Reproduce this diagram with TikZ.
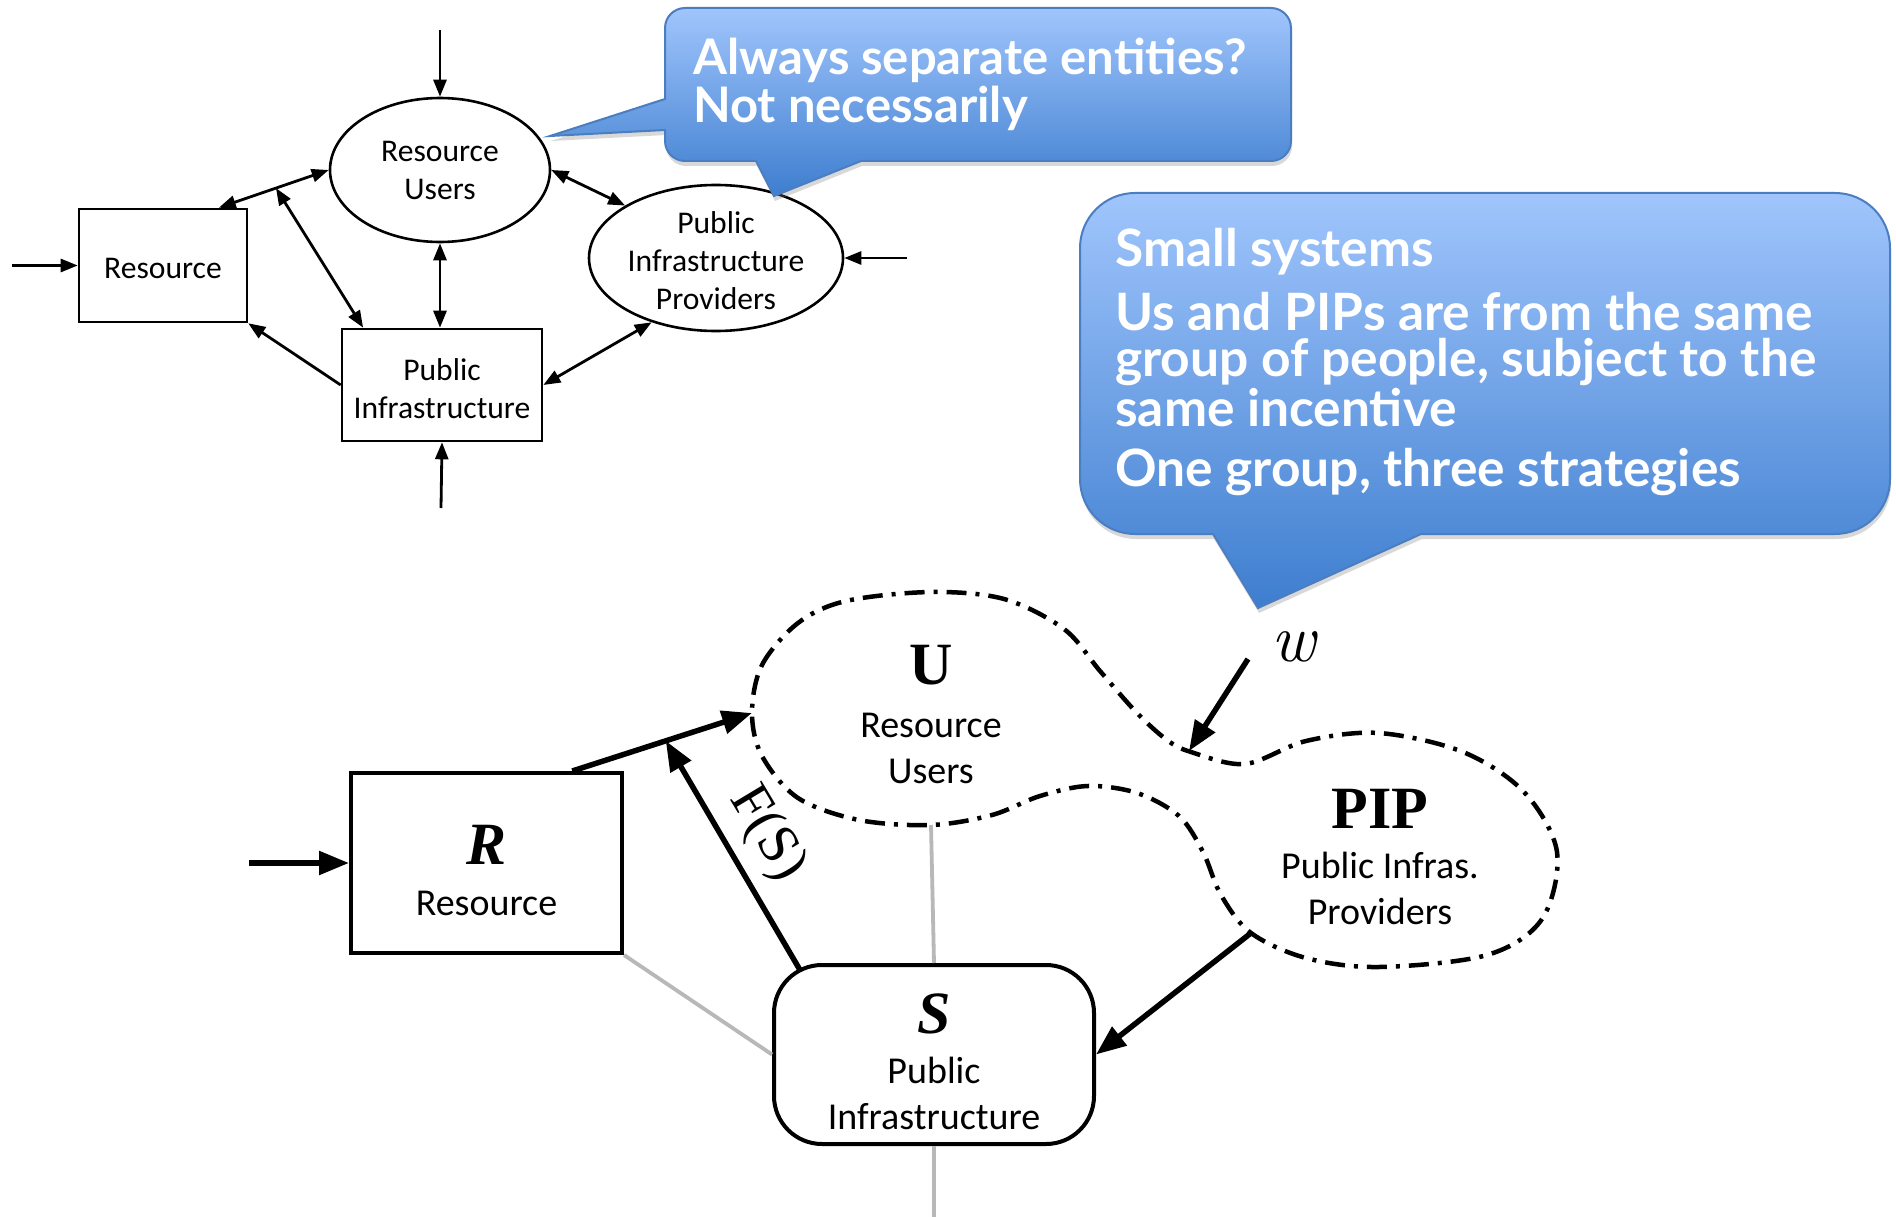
\documentclass[tikz,border=0pt]{standalone}
\usepackage{fontspec}
\usetikzlibrary{arrows.meta,shapes.geometric,calc,shadows}
\newfontfamily\calib{Carlito}
\newfontfamily\tnr{Liberation Serif}
\newfontfamily\hand{Lato}
\definecolor{calloutTop}{HTML}{A0C5FC}
\definecolor{calloutBot}{HTML}{3E7ECF}
\definecolor{calloutEdge}{HTML}{4A7EC0}
\definecolor{linkgray}{HTML}{B8B8B8}
\tikzset{
  tshape/.style={draw, line width=2.6pt, inner sep=0pt, align=center,
    font=\calib\fontsize{31.6}{38}\selectfont},
  tone/.style={line width=2.8pt, -{Triangle[length=17pt,width=13pt]}},
  ttwo/.style={line width=2.8pt, {Triangle[length=17pt,width=13pt]}-{Triangle[length=17pt,width=13pt]}},
  bshape/.style={draw, line width=4pt, inner sep=0pt, align=center,
    font=\calib\fontsize{38}{46}\selectfont},
  blabel/.style={inner sep=0pt, align=center, font=\calib\fontsize{38}{46}\selectfont},
  bone/.style={line width=5.5pt, -{Triangle[length=30pt,width=23pt]}},
  glink/.style={draw=linkgray, line width=3.8pt},
  cloudline/.style={line width=4.5pt, dash pattern=on 20pt off 9pt on 4pt off 9pt, line join=round},
  callout/.style={draw=calloutEdge, line width=2pt, top color=calloutTop, bottom color=calloutBot,
    drop shadow={opacity=0.3, shadow xshift=1pt, shadow yshift=-5pt}},
  handA/.style={text=white, inner sep=0pt, anchor=base west, font=\hand\bfseries\fontsize{49}{50}\selectfont},
  handB/.style={text=white, inner sep=0pt, anchor=base west, font=\hand\bfseries\fontsize{51.5}{50}\selectfont},
}
\newcommand{\bigbold}[1]{{\tnr\bfseries\fontsize{60}{60}\selectfont #1}}
\newcommand{\bigital}[1]{{\tnr\bfseries\itshape\fontsize{60}{60}\selectfont\rule{0pt}{55pt}#1}}
\begin{document}
\begin{tikzpicture}[x=1pt,y=-1pt]
\fill[white] (0,0) rectangle (1896,1217);
\useasboundingbox (0,0) rectangle (1896,1217);

% ---------- upper diagram ----------
\node[tshape, ellipse, minimum width=220, minimum height=144] (ru) at (440,170) {Resource\\Users};
\node[tshape, minimum width=168, minimum height=113] (res) at (163,265.5) {\rule{0pt}{26pt}Resource};
\node[tshape, minimum width=200, minimum height=112] (pi) at (442,385) {\rule{0pt}{30pt}Public\\Infrastructure};
\node[tshape, ellipse, minimum width=254, minimum height=146] (pip) at (716,258) {\rule{0pt}{27pt}Public\\Infrastructure\\Providers};

\coordinate (inRU) at (440,30);
\coordinate (inRes) at (12,265.5);
\coordinate (inPIP) at (907,258);
\coordinate (inPI) at (441,508);
\coordinate (j1) at ($(res.46)!0.52!(ru.west)$);

\draw[tone] (inRU) -- (ru.north);
\draw[tone] (inRes) -- (res.west);
\draw[tone] (inPIP) -- (pip.east);
\draw[tone] (inPI) -- (pi.south);
\draw[ttwo] (res.46) -- (ru.west);
\draw[ttwo] (j1) -- (pi.144);
\draw[ttwo] (ru.south) -- (ru.south |- pi.north);
\draw[tone] (pi.west) -- (res.south east);
\draw[ttwo] (ru.east) -- (pip.150);
\draw[ttwo] (pi.east) -- (pip.225);

% ---------- lower diagram ----------
\node[bshape, minimum width=271, minimum height=180] (rbox) at (486.5,863)
  {\bigital{R}\\[5pt]Resource};
\node[bshape, rounded corners=48pt, minimum width=320, minimum height=179] (sbox) at (934,1054.5)
  {\bigital{S}\\[4pt]Public\\Infrastructure};

% merged outline of users and providers
\draw[cloudline] plot[smooth cycle, tension=0.55] coordinates {
  (752,713) (762,665) (798,623) (846,601) (931,592) (1004,599) (1064,629) (1100,671)
  (1137,713) (1167,740) (1191,752) (1245,764) (1306,741) (1379,733) (1463,752)
  (1524,792) (1557,852) (1542,919) (1487,955) (1379,967) (1306,958) (1251,933)
  (1221,895) (1203,852) (1179,816) (1137,793) (1088,786) (1040,796) (992,815)
  (931,825) (859,820) (798,798) (762,756)};
\coordinate (uleft) at (752,713);
\coordinate (uwaist) at (1189,751);
\coordinate (ubot) at (931,825);
\coordinate (pipout) at (1251,933);

\node[blabel] (ulab) at (931,714) {\bigbold{U}\\[7pt]Resource\\Users};
\node[blabel] (piplab) at (1380,857) {\bigbold{PIP}\\[4pt]Public Infras.\\Providers};

\coordinate (inR) at (249,863);
\coordinate (wstart) at (1248,659);
\coordinate (gend) at (934,1217);
\coordinate (sF) at ($(sbox.north west)+(28,7)$);
\coordinate (j2) at ($(rbox.47)!0.52!(uleft)$);

\draw[glink] (rbox.south east) -- (sbox.west);
\draw[glink] (ubot) -- (sbox.north);
\draw[glink] (sbox.south) -- (gend);

\draw[bone] (inR) -- (rbox.west);
\draw[bone] (rbox.47) -- (uleft);
\draw[bone] (sF) -- (j2);
\draw[bone] (pipout) -- (sbox.east);
\draw[bone] (wstart) -- (uwaist);

\node[inner sep=0pt, rotate=-59, font=\tnr\fontsize{56}{56}\selectfont] (fs) at (767,834) {F(S)};
\node[inner sep=0pt, font=\rmfamily\itshape\fontsize{68}{68}\selectfont] (w) at (1294,647) {w};

% ---------- callouts ----------
\path[callout] (685,8) -- (1271,8) arc[start angle=270, end angle=360, radius=20]
  -- (1291,141) arc[start angle=0, end angle=90, radius=20]
  -- (861,161) -- (774,196) -- (756,161)
  -- (685,161) arc[start angle=90, end angle=180, radius=20]
  -- (665,130) -- (550,136) -- (665,99)
  -- (665,28) arc[start angle=180, end angle=270, radius=20] -- cycle;
\node[handA] (cA1) at (693,75) {Always separate entities?};
\node[handA] (cA2) at (693,123) {Not necessarily};

\path[callout] (1135,193) -- (1835,193) arc[start angle=270, end angle=360, radius=55]
  -- (1890,479) arc[start angle=0, end angle=90, radius=55]
  -- (1421,534) -- (1258,608) -- (1213,534)
  -- (1135,534) arc[start angle=90, end angle=180, radius=55]
  -- (1080,248) arc[start angle=180, end angle=270, radius=55] -- cycle;
\node[handB] (cB1) at (1115,266) {Small systems};
\node[handB] (cB2) at (1115,330) {Us and PIPs are from the same};
\node[handB] (cB3) at (1115,376) {group of people, subject to the};
\node[handB] (cB4) at (1115,426) {same incentive};
\node[handB] (cB5) at (1115,486) {One group, three strategies};
\end{tikzpicture}
\end{document}
